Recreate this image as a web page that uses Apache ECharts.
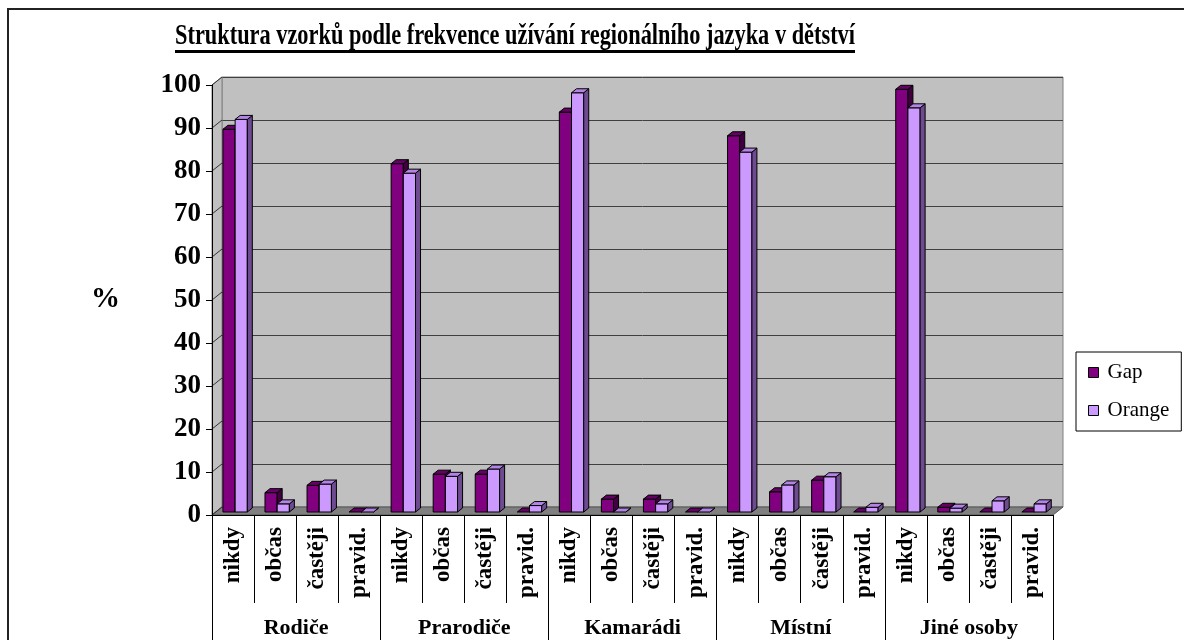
<!DOCTYPE html>
<html>
<head>
<meta charset="utf-8">
<script src="https://cdn.jsdelivr.net/npm/echarts@6/dist/echarts.min.js"></script>
<style>
  html, body { margin: 0; padding: 0; background: #fff; }
  #chart { width: 1184px; height: 640px; }
</style>
</head>
<body>
<div id="chart"></div>
<script>
// data
var subCats = ['nikdy', 'občas', 'častěji', 'pravid.'];
var groups = ['Rodiče', 'Prarodiče', 'Kamarádi', 'Místní', 'Jiné osoby'];
var gapValues = [89, 4.5, 6.2, 0, 81, 8.8, 8.8, 0, 93, 3, 3, 0, 87.5, 4.7, 7.4, 0, 98.3, 1.1, 0, 0];
var orangeValues = [91.3, 1.9, 6.5, 0, 78.8, 8.3, 10, 1.5, 97.5, 0, 1.9, 0, 83.7, 6.3, 8.2, 1.1, 94, 0.9, 2.6, 1.9];
var yTicks = [0, 10, 20, 30, 40, 50, 60, 70, 80, 90, 100];

var titleText = 'Struktura vzorků podle frekvence užívání regionálního jazyka v dětství';
var serif = '"Liberation Serif", "Times New Roman", serif';

var categories = [];
groups.forEach(function () {
  subCats.forEach(function (s) { categories.push(s); });
});

// wall depth of the 3d look
var DX = 10, DY = 8;

function barRenderer(offset, front, top, side) {
  return function (params, api) {
    var i = api.value(0), v = api.value(1);
    var base = api.coord([i, 0]);
    var tp = api.coord([i, v]);
    var band = api.size([1, 0])[0];
    var w = band * 0.29;
    var d = 5, dd = 4;
    var x0 = base[0] + offset * band;
    var yb = base[1] - 3;
    var yt = tp[1] - 3;
    var st = { stroke: '#000', lineWidth: 1 };
    var children = [];
    if (yb - yt > 0.5) {
      children.push({ type: 'rect', shape: { x: x0, y: yt, width: w, height: yb - yt },
        style: Object.assign({ fill: front }, st) });
    }
    children.push({ type: 'polygon', shape: { points: [[x0 + w, yt], [x0 + w + d, yt - dd], [x0 + w + d, yb - dd], [x0 + w, yb]] },
      style: Object.assign({ fill: side }, st) });
    children.push({ type: 'polygon', shape: { points: [[x0, yt], [x0 + w, yt], [x0 + w + d, yt - dd], [x0 + d, yt - dd]] },
      style: Object.assign({ fill: top }, st) });
    return { type: 'group', children: children };
  };
}

function wallRenderer(params, api) {
  var cs = params.coordSys;
  var v = api.value(0);
  var p = api.coord([0, v]);
  var x = cs.x;
  var children = [];
  if (params.dataIndex === 0) {
    children.push({ type: 'polygon', shape: { points: [[x, cs.y], [x + DX, cs.y - DY], [x + DX, cs.y + cs.height - DY], [x, cs.y + cs.height]] },
      style: { fill: '#c0c0c0', stroke: '#808080', lineWidth: 1 } });
    children.push({ type: 'polygon', shape: { points: [[x, cs.y + cs.height], [x + DX, cs.y + cs.height - DY], [x + cs.width + DX, cs.y + cs.height - DY], [x + cs.width, cs.y + cs.height]] },
      style: { fill: '#808080', stroke: '#555', lineWidth: 1 } });
  }
  children.push({ type: 'line', shape: { x1: x, y1: p[1], x2: x + DX, y2: p[1] - DY },
    style: { stroke: '#333', lineWidth: 1 } });
  return { type: 'group', children: children };
}

// squeeze the title to the width it has in the reference
var cv = document.createElement('canvas').getContext('2d');
cv.font = 'bold 29px ' + serif;
var titleW = cv.measureText(titleText).width;
var titleScale = 680 / titleW;

var chart = echarts.init(document.getElementById('chart'));
var option = {
  animation: false,
  backgroundColor: '#fff',
  grid: [
    { left: 212, right: 131, top: 85, bottom: 125 },
    { left: 212 + DX, right: 131 - DX, top: 85 - DY, bottom: 125 + DY, show: true,
      backgroundColor: '#c0c0c0', borderColor: '#808080', borderWidth: 1 }
  ],
  legend: {
    orient: 'vertical',
    left: 1076,
    top: 352,
    padding: [10, 12, 10, 12],
    itemGap: 17,
    itemWidth: 10,
    itemHeight: 10,
    icon: 'rect',
    borderColor: '#000',
    borderWidth: 1,
    backgroundColor: '#fff',
    itemStyle: { borderColor: '#000', borderWidth: 1 },
    textStyle: { fontFamily: serif, fontSize: 21, color: '#000', padding: [0, 0, 0, 4] },
    data: ['Gap', 'Orange']
  },
  xAxis: [
    {
      type: 'category', gridIndex: 0, data: categories, z: 5,
      axisLine: { lineStyle: { color: '#000', width: 1 } },
      axisTick: { show: true, interval: 0, length: 88, lineStyle: { color: '#000' } },
      axisLabel: { interval: 0, rotate: 90, margin: 12, fontFamily: serif, fontWeight: 'bold', fontSize: 23, color: '#000' },
      splitLine: { show: false }
    },
    {
      type: 'category', gridIndex: 0, data: groups, position: 'bottom', z: 5,
      axisLine: { show: false },
      axisTick: { show: true, interval: 0, length: 130, lineStyle: { color: '#000' } },
      axisLabel: { interval: 0, margin: 102, fontFamily: serif, fontWeight: 'bold', fontSize: 22, color: '#000' },
      splitLine: { show: false }
    },
    { type: 'category', gridIndex: 1, data: categories, show: false }
  ],
  yAxis: [
    {
      type: 'value', gridIndex: 0, min: 0, max: 100, interval: 10, z: 5,
      name: '%', nameLocation: 'middle', nameRotate: 0, nameGap: 92,
      nameTextStyle: { fontFamily: serif, fontWeight: 'bold', fontSize: 29, color: '#000' },
      axisLine: { show: true, lineStyle: { color: '#000' } },
      axisTick: { show: true, length: 6, inside: false, lineStyle: { color: '#000' } },
      axisLabel: { margin: 11, fontFamily: serif, fontWeight: 'bold', fontSize: 27, color: '#000' },
      splitLine: { show: false }
    },
    {
      type: 'value', gridIndex: 1, min: 0, max: 100, interval: 10,
      axisLine: { show: false }, axisTick: { show: false }, axisLabel: { show: false },
      splitLine: { show: true, lineStyle: { color: '#404040', width: 1 } }
    }
  ],
  series: [
    {
      name: 'walls', type: 'custom', xAxisIndex: 0, yAxisIndex: 0, z: 1, silent: true, clip: false,
      data: yTicks.map(function (t) { return [t]; }),
      renderItem: wallRenderer
    },
    {
      name: 'Gap', type: 'custom', xAxisIndex: 0, yAxisIndex: 0, z: 3, clip: false,
      itemStyle: { color: '#800080' },
      encode: { x: 0, y: 1 },
      data: gapValues.map(function (v, i) { return [i, v]; }),
      renderItem: barRenderer(-0.24, '#800080', '#660066', '#400040')
    },
    {
      name: 'Orange', type: 'custom', xAxisIndex: 0, yAxisIndex: 0, z: 4, clip: false,
      itemStyle: { color: '#cc99ff' },
      encode: { x: 0, y: 1 },
      data: orangeValues.map(function (v, i) { return [i, v]; }),
      renderItem: barRenderer(0.05, '#cc99ff', '#b383e6', '#6e4a90')
    }
  ],
  graphic: [
    { type: 'rect', shape: { x: 8, y: 9, width: 1200, height: 660 }, style: { fill: null, stroke: '#222', lineWidth: 2 }, z: 10 },
    { type: 'text', x: 175, y: 37, scaleX: titleScale, z: 10,
      style: { text: titleText, font: 'bold 29px ' + serif, fill: '#000', verticalAlign: 'middle', align: 'left' } },
    { type: 'rect', shape: { x: 175, y: 50, width: 680, height: 3 }, style: { fill: '#000' }, z: 10 }
  ]
};
chart.setOption(option);
</script>
</body>
</html>
